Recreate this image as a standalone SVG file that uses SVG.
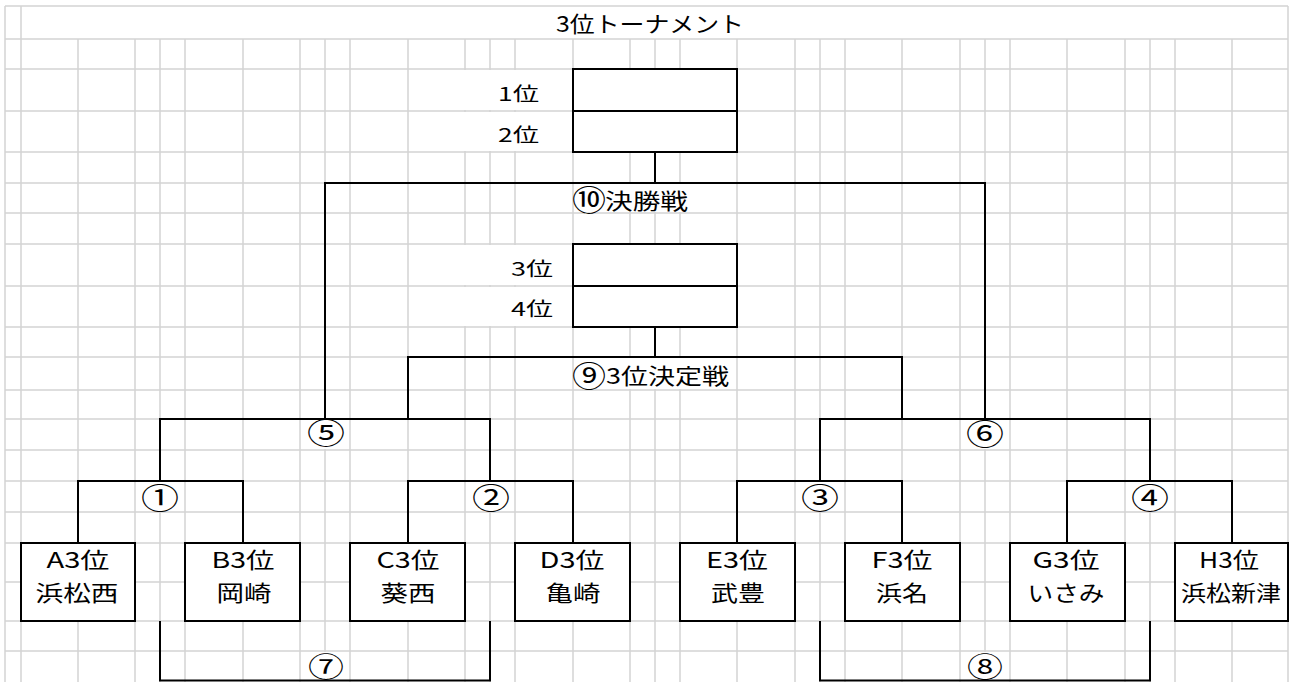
<svg xmlns="http://www.w3.org/2000/svg" width="1295" height="682" viewBox="0 0 1295 682">
<style>
.grid{stroke:#d4d4d4;stroke-width:1.5;fill:none}
.mask{fill:#fff}
.k{stroke:#000;stroke-width:2;fill:none}
.box{fill:#fff;stroke:#000;stroke-width:2}
.t{font-family:"Noto Sans CJK JP","Noto Sans CJK SC",sans-serif;fill:#000;font-size:22px}
.s{font-size:19px}
.c{font-size:29px;text-anchor:middle}
.cb{font-size:27px}
.m{text-anchor:middle}
</style>
<rect x="0" y="0" width="1295" height="682" fill="#fff"/>
<g id="grid">
<path class="grid" d="M5,6V682M21,6V682M1288,6V682
M78,39V682M135,39V682M160,39V682M185,39V682M243,39V682M300,39V682M325,39V682M350,39V682
M408,39V682M465,39V682M490,39V682M515,39V682M573,39V682M630,39V682M655,39V682M680,39V682
M737,39V682M795,39V682M820,39V682M845,39V682M902,39V682M960,39V682M985,39V682M1010,39V682
M1067,39V682M1125,39V682M1150,39V682M1175,39V682M1232,39V682
M5,6H1288M5,39H1288M5,69H1288M5,111H1288M5,152H1288M5,183H1288M5,213H1288M5,244H1288
M5,286H1288M5,327H1288M5,357H1288M5,390H1288M5,419H1288M5,450H1288M5,481H1288M5,512H1288
M5,543H1288M5,582H1288M5,621H1288M5,651H1288"/>
<rect class="mask" x="22" y="7" width="1265" height="31"/>
<rect class="mask" x="409" y="70" width="163" height="40"/>
<rect class="mask" x="409" y="112" width="163" height="39"/>
<rect class="mask" x="409" y="245" width="163" height="40"/>
<rect class="mask" x="409" y="287" width="163" height="39"/>
<rect class="mask" x="574" y="184" width="162" height="28"/>
<rect class="mask" x="574" y="358" width="162" height="31"/>
<rect class="mask" x="301" y="420" width="48" height="29"/>
<rect class="mask" x="961" y="420" width="48" height="29"/>
<rect class="mask" x="136" y="482" width="48" height="29"/>
<rect class="mask" x="466" y="482" width="48" height="29"/>
<rect class="mask" x="796" y="482" width="48" height="29"/>
<rect class="mask" x="1126" y="482" width="48" height="29"/>
<rect class="mask" x="301" y="652" width="48" height="30"/>
<rect class="mask" x="961" y="652" width="48" height="30"/>
</g>
<g id="title">
<text class="t m" x="650" y="31.5" textLength="188" lengthAdjust="spacingAndGlyphs">3位トーナメント</text>
</g>
<g id="connectors">
<path class="k" d="M655,152V183M325,419V183H985V419"/>
<path class="k" d="M655,327V357M408,419V357H902V419"/>
<path class="k" d="M160,481V419H490V481"/>
<path class="k" d="M820,481V419H1150V481"/>
<path class="k" d="M78,543V481H243V543"/>
<path class="k" d="M408,543V481H573V543"/>
<path class="k" d="M737,543V481H902V543"/>
<path class="k" d="M1067,543V481H1232V543"/>
<path class="k" d="M160,621V680.5H490V621"/>
<path class="k" d="M820,621V680.5H1150V621"/>
</g>
<g id="match-labels">
<text class="t c" x="589" y="210.5" textLength="34" lengthAdjust="spacingAndGlyphs">⑩</text>
<text class="t" x="605" y="209" textLength="83" lengthAdjust="spacingAndGlyphs">決勝戦</text>
<text class="t c" x="589" y="386.5" textLength="34" lengthAdjust="spacingAndGlyphs">⑨</text>
<text class="t" x="606" y="384" textLength="123" lengthAdjust="spacingAndGlyphs">3位決定戦</text>
<text class="t c" x="326" y="444" textLength="38" lengthAdjust="spacingAndGlyphs">⑤</text>
<text class="t c" x="985" y="445" textLength="38" lengthAdjust="spacingAndGlyphs">⑥</text>
<text class="t c" x="160" y="508.5" textLength="38" lengthAdjust="spacingAndGlyphs">①</text>
<text class="t c" x="491" y="508.5" textLength="38" lengthAdjust="spacingAndGlyphs">②</text>
<text class="t c" x="820" y="508.5" textLength="38" lengthAdjust="spacingAndGlyphs">③</text>
<text class="t c" x="1150" y="509" textLength="38" lengthAdjust="spacingAndGlyphs">④</text>
<text class="t c cb" x="326" y="676.5" textLength="36" lengthAdjust="spacingAndGlyphs">⑦</text>
<text class="t c cb" x="985" y="676.5" textLength="36" lengthAdjust="spacingAndGlyphs">⑧</text>
</g>
<g id="node-final">
<rect class="box" x="573" y="69" width="164" height="83"/>
<path class="k" d="M573,111H737"/>
<text class="t s" x="498" y="101" textLength="41" lengthAdjust="spacingAndGlyphs">1位</text>
<text class="t s" x="498" y="142" textLength="41" lengthAdjust="spacingAndGlyphs">2位</text>
</g>
<g id="node-third">
<rect class="box" x="573" y="244" width="164" height="83"/>
<path class="k" d="M573,286H737"/>
<text class="t s" x="511" y="276" textLength="42" lengthAdjust="spacingAndGlyphs">3位</text>
<text class="t s" x="511" y="316" textLength="42" lengthAdjust="spacingAndGlyphs">4位</text>
</g>
<g id="node-A">
<rect class="box" x="21" y="543" width="114" height="78"/>
<text class="t m" x="78" y="567.5" textLength="63" lengthAdjust="spacingAndGlyphs">A3位</text>
<text class="t m" x="77" y="600.5" textLength="83" lengthAdjust="spacingAndGlyphs">浜松西</text>
</g>
<g id="node-B">
<rect class="box" x="185" y="543" width="115" height="78"/>
<text class="t m" x="243" y="567.5" textLength="63" lengthAdjust="spacingAndGlyphs">B3位</text>
<text class="t m" x="244" y="600.5" textLength="55" lengthAdjust="spacingAndGlyphs">岡崎</text>
</g>
<g id="node-C">
<rect class="box" x="350" y="543" width="115" height="78"/>
<text class="t m" x="408" y="567.5" textLength="63" lengthAdjust="spacingAndGlyphs">C3位</text>
<text class="t m" x="408" y="600.5" textLength="55" lengthAdjust="spacingAndGlyphs">葵西</text>
</g>
<g id="node-D">
<rect class="box" x="515" y="543" width="115" height="78"/>
<text class="t m" x="572" y="567.5" textLength="65" lengthAdjust="spacingAndGlyphs">D3位</text>
<text class="t m" x="573" y="600.5" textLength="55" lengthAdjust="spacingAndGlyphs">亀崎</text>
</g>
<g id="node-E">
<rect class="box" x="680" y="543" width="115" height="78"/>
<text class="t m" x="737" y="567.5" textLength="62" lengthAdjust="spacingAndGlyphs">E3位</text>
<text class="t m" x="738" y="600.5" textLength="54" lengthAdjust="spacingAndGlyphs">武豊</text>
</g>
<g id="node-F">
<rect class="box" x="845" y="543" width="115" height="78"/>
<text class="t m" x="902" y="567.5" textLength="61" lengthAdjust="spacingAndGlyphs">F3位</text>
<text class="t m" x="902" y="600.5" textLength="52" lengthAdjust="spacingAndGlyphs">浜名</text>
</g>
<g id="node-G">
<rect class="box" x="1010" y="543" width="115" height="78"/>
<text class="t m" x="1066" y="567.5" textLength="67" lengthAdjust="spacingAndGlyphs">G3位</text>
<text class="t m" x="1066" y="600.5" textLength="77" lengthAdjust="spacingAndGlyphs">いさみ</text>
</g>
<g id="node-H">
<rect class="box" x="1175" y="543" width="113" height="78"/>
<text class="t m" x="1229" y="567.5" textLength="60" lengthAdjust="spacingAndGlyphs">H3位</text>
<text class="t m" x="1231" y="600.5" textLength="100" lengthAdjust="spacingAndGlyphs">浜松新津</text>
</g>
</svg>
